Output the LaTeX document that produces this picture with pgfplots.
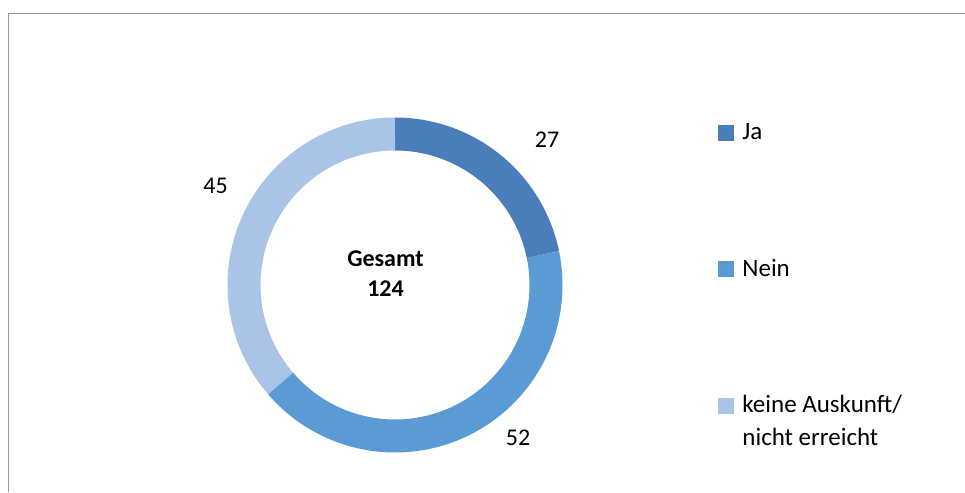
\documentclass[border=0pt]{standalone}
\usepackage{pgfplots}
\usepackage{pgfplotstable}
\pgfplotsset{compat=1.18}
\usepackage{fontspec}
\setmainfont{Carlito}
\definecolor{cJa}{HTML}{4A7EBB}
\definecolor{cNein}{HTML}{5B9BD5}
\definecolor{cKeine}{HTML}{A9C4E6}
\definecolor{frameGray}{HTML}{9B9B9B}
\pgfplotstableread{
label value
Ja 27
Nein 52
Keine 45
}\donutdata
\begin{document}
\begin{tikzpicture}
\useasboundingbox (0,0) rectangle (965pt,492pt);
\pgfplotstablegetelem{0}{value}\of\donutdata \let\vA\pgfplotsretval
\pgfplotstablegetelem{1}{value}\of\donutdata \let\vB\pgfplotsretval
\pgfplotstablegetelem{2}{value}\of\donutdata \let\vC\pgfplotsretval
\pgfmathsetmacro\vT{\vA+\vB+\vC}
\pgfmathsetmacro\aO{90}
\pgfmathsetmacro\aA{90-(\vA/\vT)*360}
\pgfmathsetmacro\aB{\aA-(\vB/\vT)*360}
\pgfmathsetmacro\aC{\aB-(\vC/\vT)*360}
\begin{axis}[
  at={(0,0)}, anchor=south west,
  x=1pt, y=1pt, xmin=0, xmax=965, ymin=0, ymax=492,
  hide axis, clip=false,
  legend style={at={(0.74404,0.75813)}, anchor=north west, draw=none, fill=none,
    inner sep=0pt, outer sep=0pt, row sep=112pt, column sep=7pt,
    font=\fontsize{25}{33}\selectfont,
    cells={anchor=base west, inner sep=0pt, text height=19pt, text depth=6pt}},
]
% frame
\draw[frameGray, line width=1.8pt] (axis cs:8.5,0) -- (axis cs:8.5,478.5) -- (axis cs:965,478.5);
% donut ring
\addplot[cJa, line width=33pt, domain=\aA:\aO, samples=120, variable=\t, no markers, forget plot]
  ({395+151*cos(\t)},{207+151*sin(\t)});
\addplot[cNein, line width=33pt, domain=\aB:\aA, samples=160, variable=\t, no markers, forget plot]
  ({395+151*cos(\t)},{207+151*sin(\t)});
\addplot[cKeine, line width=33pt, domain=\aC:\aB, samples=160, variable=\t, no markers, forget plot]
  ({395+151*cos(\t)},{207+151*sin(\t)});
% legend
\addlegendimage{legend image code/.code={\fill[cJa] (0pt,0pt) rectangle (15pt,15pt);}}
\addlegendentry{Ja}
\addlegendimage{legend image code/.code={\fill[cNein] (0pt,0pt) rectangle (15pt,15pt);}}
\addlegendentry{Nein}
\addlegendimage{legend image code/.code={\fill[cKeine] (0pt,0pt) rectangle (15pt,15pt);}}
\addlegendentry{\begin{tabular}[t]{@{}l@{}}keine Auskunft/\\nicht erreicht\end{tabular}}
% labels
\node[anchor=base, font=\fontsize{24}{29}\selectfont] at (axis cs:547,344) {27};
\node[anchor=base, font=\fontsize{24}{29}\selectfont] at (axis cs:518,46) {52};
\node[anchor=base, font=\fontsize{24}{29}\selectfont] at (axis cs:215.5,298) {45};
\node[anchor=base, font=\bfseries\fontsize{24}{29}\selectfont] at (axis cs:385.5,225) {Gesamt};
\node[anchor=base, font=\bfseries\fontsize{24}{29}\selectfont] at (axis cs:385.5,195) {124};
\end{axis}
\end{tikzpicture}
\end{document}
